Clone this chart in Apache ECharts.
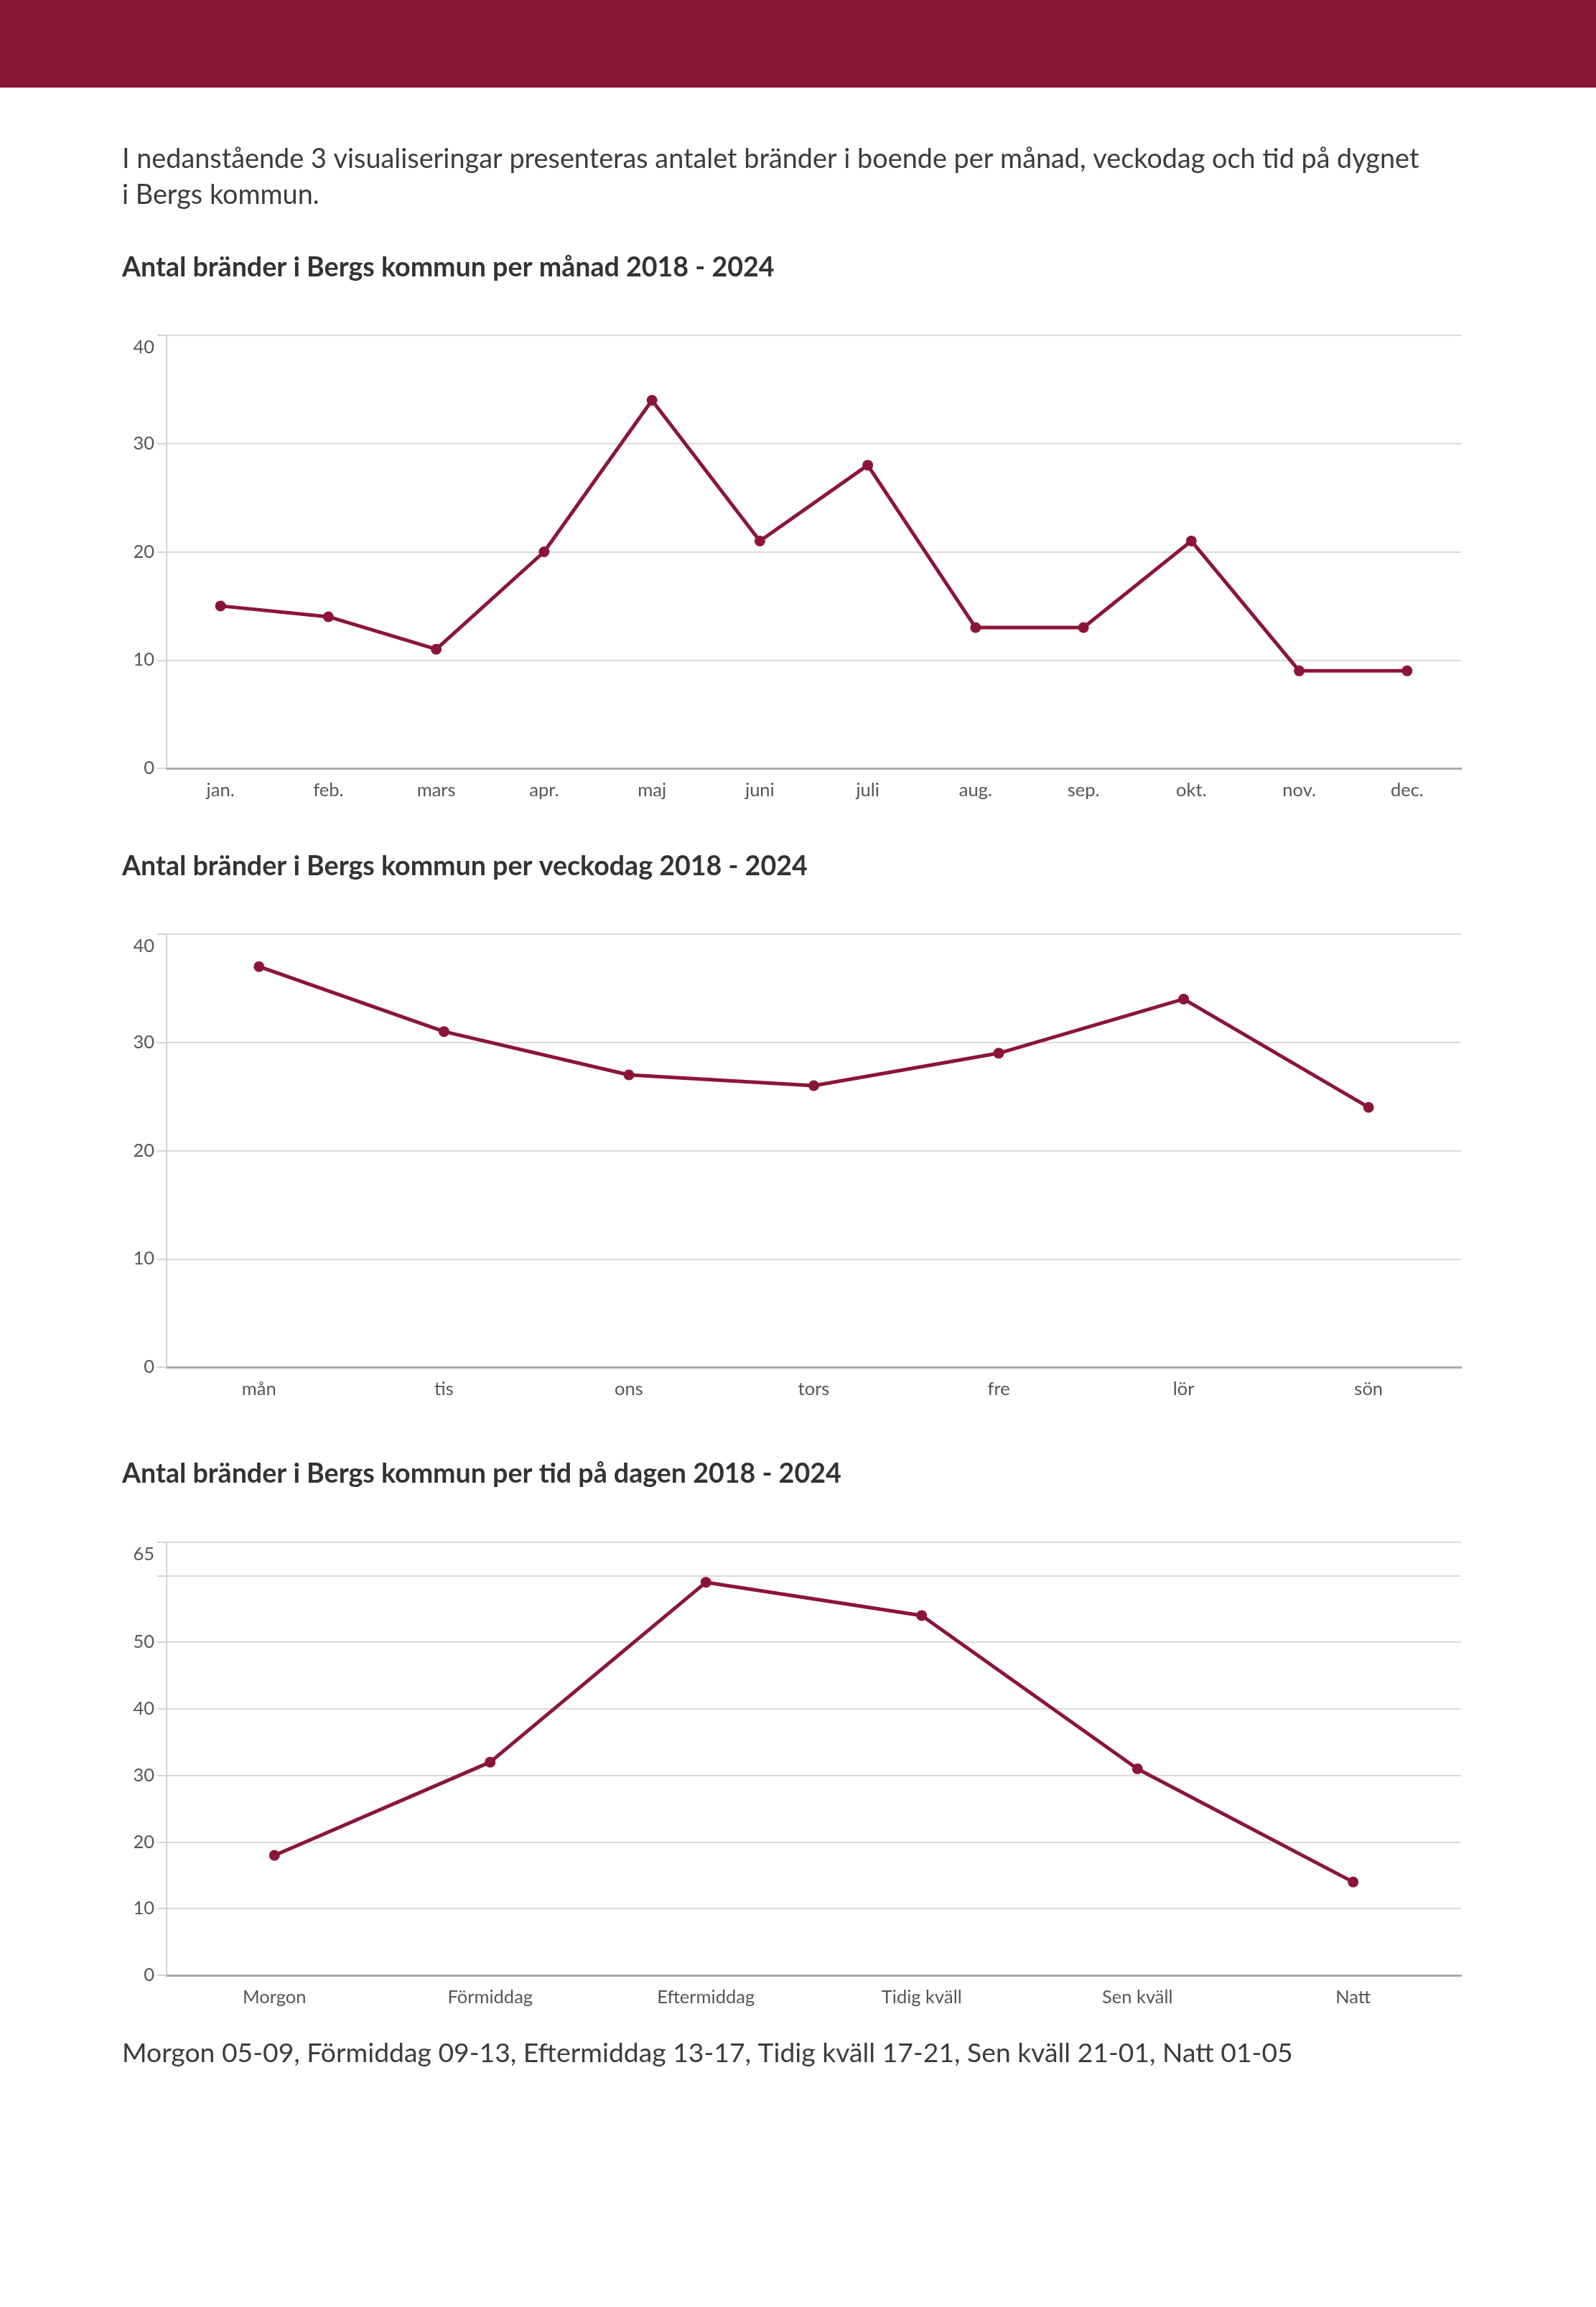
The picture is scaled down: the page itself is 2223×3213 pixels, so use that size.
<!DOCTYPE html>
<html>
<head>
<meta charset="utf-8">
<script src="https://cdn.jsdelivr.net/npm/echarts@6/dist/echarts.min.js"></script>
<style>
html,body{margin:0;padding:0;background:#fff;}
#c{width:2223px;height:3213px;}
</style>
</head>
<body>
<div id="c"></div>
<script>
// ---- data ----
const monthCats = ['jan.','feb.','mars','apr.','maj','juni','juli','aug.','sep.','okt.','nov.','dec.'];
const monthVals = [15,14,11,20,34,21,28,13,13,21,9,9];
const dayCats = ['mån','tis','ons','tors','fre','lör','sön'];
const dayVals = [37,31,27,26,29,34,24];
const timeCats = ['Morgon','Förmiddag','Eftermiddag','Tidig kväll','Sen kväll','Natt'];
const timeVals = [18,32,59,54,31,14];
const yMax = [40,40,65];
const yInterval = 10;

const introLines = [
  'I nedanstående 3 visualiseringar presenteras antalet bränder i boende per månad, veckodag och tid på dygnet',
  'i Bergs kommun.'
];
const titles = [
  'Antal bränder i Bergs kommun per månad 2018 - 2024',
  'Antal bränder i Bergs kommun per veckodag 2018 - 2024',
  'Antal bränder i Bergs kommun per tid på dagen 2018 - 2024'
];
const footnote = 'Morgon 05-09, Förmiddag 09-13, Eftermiddag 13-17, Tidig kväll 17-21, Sen kväll 21-01, Natt 01-05';

// ---- style ----
const FONT = 'Lato, "Open Sans", sans-serif';
const RED = '#8B1538';
const gridTops = [467, 1301, 2148];
const gridH = 603;
const LABEL_SIZE = 25.5;

const chart = echarts.init(document.getElementById('c'), null, {renderer:'canvas'});

function yAxis(i){
  const max = yMax[i];
  return {
    type:'value', gridIndex:i, min:0, max:max, interval:yInterval,
    axisLine:{show:true, lineStyle:{color:'#d4d4d4', width:2}},
    axisTick:{show:true, length:13, lineStyle:{color:'#d4d4d4', width:2}},
    splitLine:{show:true, lineStyle:{color:'#dadada', width:2}},
    axisLabel:{
      color:'#555', fontSize:LABEL_SIZE, fontFamily:FONT, margin:17,
      formatter:function(v){
        if (v === max) return '{top|' + v + '}';
        if (max - v < yInterval) return '';
        return String(v);
      },
      rich:{top:{color:'#555', fontSize:LABEL_SIZE, fontFamily:FONT, padding:[34,0,0,0]}}
    }
  };
}
function xAxis(i, cats){
  return {
    type:'category', gridIndex:i, data:cats, boundaryGap:true,
    axisLine:{show:true, lineStyle:{color:'#aaaaaa', width:3}},
    axisTick:{show:false},
    axisLabel:{color:'#555', fontSize:LABEL_SIZE, fontFamily:FONT, margin:18, interval:0}
  };
}
function series(i, vals){
  return {
    type:'line', xAxisIndex:i, yAxisIndex:i, data:vals,
    lineStyle:{color:RED, width:5},
    itemStyle:{color:RED},
    symbol:'circle', symbolSize:15, showSymbol:true,
    emphasis:{disabled:true}, animation:false
  };
}

const graphics = [
  {type:'rect', shape:{x:0,y:0,width:2223,height:122}, style:{fill:RED}},
  {type:'text', x:170, y:222, style:{text:introLines[0], fill:'#3c3c3c', font:'37.8px ' + FONT, textVerticalAlign:'middle'}},
  {type:'text', x:170, y:272, style:{text:introLines[1], fill:'#3c3c3c', font:'37.8px ' + FONT, textVerticalAlign:'middle'}},
  {type:'text', x:170, y:373, style:{text:titles[0], fill:'#333', font:'bold 37.6px ' + FONT, textVerticalAlign:'middle'}},
  {type:'text', x:170, y:1207, style:{text:titles[1], fill:'#333', font:'bold 37.6px ' + FONT, textVerticalAlign:'middle'}},
  {type:'text', x:170, y:2053, style:{text:titles[2], fill:'#333', font:'bold 37.6px ' + FONT, textVerticalAlign:'middle'}},
  {type:'text', x:170, y:2860, style:{text:footnote, fill:'#3c3c3c', font:'37.3px ' + FONT, textVerticalAlign:'middle'}}
];

chart.setOption({
  animation:false,
  backgroundColor:'#ffffff',
  grid: gridTops.map(t => ({left:232, right:188, top:t, height:gridH, containLabel:false})),
  xAxis:[xAxis(0, monthCats), xAxis(1, dayCats), xAxis(2, timeCats)],
  yAxis:[yAxis(0), yAxis(1), yAxis(2)],
  series:[series(0, monthVals), series(1, dayVals), series(2, timeVals)],
  graphic: graphics
});
</script>
</body>
</html>
